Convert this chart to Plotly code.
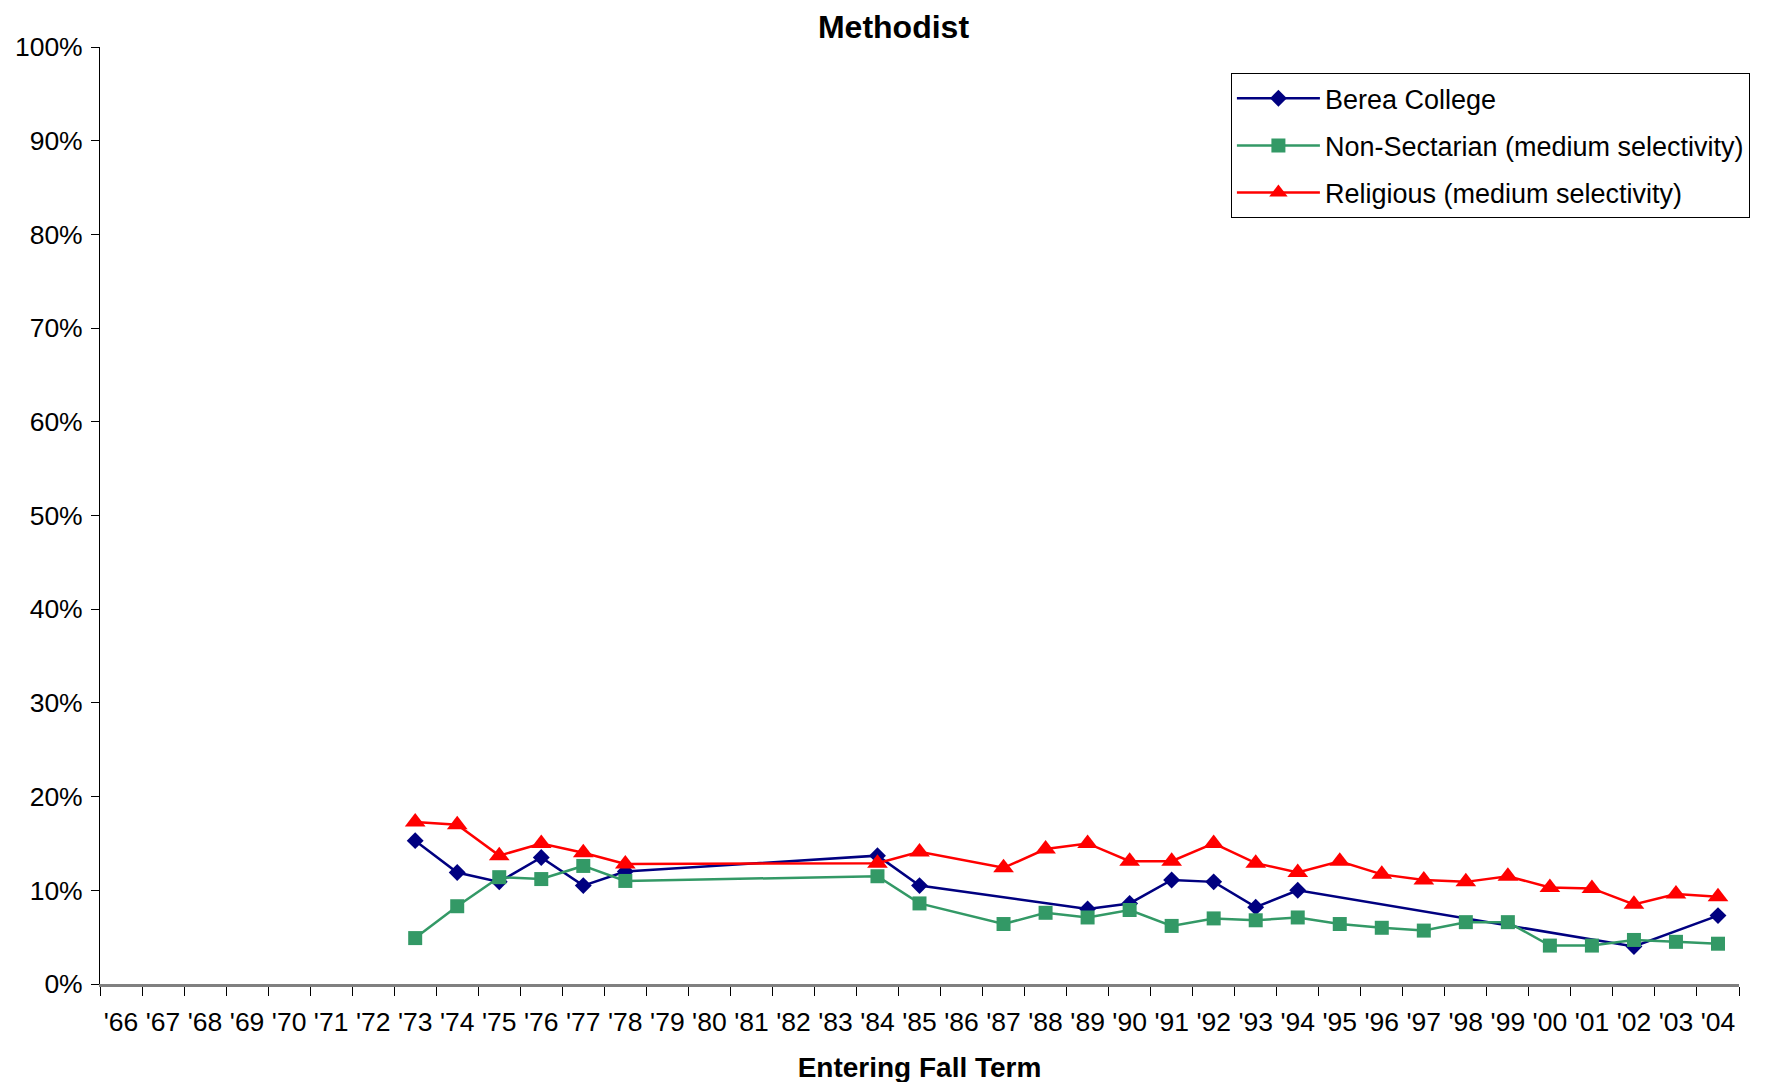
import plotly.graph_objects as go

# entering fall term categories
years = ["'66", "'67", "'68", "'69", "'70", "'71", "'72", "'73", "'74", "'75",
         "'76", "'77", "'78", "'79", "'80", "'81", "'82", "'83", "'84", "'85",
         "'86", "'87", "'88", "'89", "'90", "'91", "'92", "'93", "'94", "'95",
         "'96", "'97", "'98", "'99", "'00", "'01", "'02", "'03", "'04"]

N = None
# percent Methodist
berea = [N, N, N, N, N, N, N, 15.3, 11.9, 10.9,
         13.5, 10.5, 12.0, N, N, N, N, N, 13.7, 10.5,
         N, N, N, 8.0, 8.6, 11.1, 10.9, 8.2, 10.0, N,
         N, N, N, N, N, N, 4.0, N, 7.3]
non_sect = [N, N, N, N, N, N, N, 4.9, 8.3, 11.4,
            11.2, 12.6, 11.0, N, N, N, N, N, 11.5, 8.6,
            N, 6.4, 7.6, 7.1, 7.9, 6.2, 7.0, 6.8, 7.1, 6.4,
            6.0, 5.7, 6.6, 6.6, 4.1, 4.1, 4.7, 4.5, 4.3]
religious = [N, N, N, N, N, N, N, 17.3, 17.0, 13.7,
             15.0, 14.0, 12.8, N, N, N, N, N, 12.9, 14.1,
             N, 12.4, 14.4, 15.0, 13.1, 13.1, 15.0, 12.9, 11.9, 13.1,
             11.7, 11.1, 10.9, 11.5, 10.3, 10.2, 8.5, 9.6, 9.3]

FONT = "Arial, Liberation Sans, sans-serif"

fig = go.Figure()
fig.add_trace(go.Scatter(x=years, y=berea, name="Berea College", legendgroup="a",
                         mode="lines+markers", connectgaps=True,
                         line=dict(color="#000080", width=2.5),
                         marker=dict(symbol="diamond", size=13, color="#000080")))
fig.add_trace(go.Scatter(x=years, y=non_sect, name="Non-Sectarian (medium selectivity)",
                         legendgroup="b", mode="lines+markers", connectgaps=True,
                         line=dict(color="#339966", width=2.5),
                         marker=dict(symbol="square", size=14, color="#339966")))
fig.add_trace(go.Scatter(x=years, y=religious, name="Religious (medium selectivity)",
                         legendgroup="c", mode="lines+markers", connectgaps=True,
                         line=dict(color="#FF0000", width=2.5),
                         marker=dict(symbol="triangle-up", size=18, color="#FF0000")))

# page body adds ~8px offset, margins compensate
fig.update_layout(
    width=1771, height=1082,
    paper_bgcolor="white", plot_bgcolor="white",
    font=dict(family=FONT, size=26.5, color="black"),
    margin=dict(l=92, r=40, t=39, b=106, autoexpand=False),
    title=dict(text="<b>Methodist</b>", x=0.5, xref="container", xanchor="center",
               y=1 - 19 / 1082, yref="container", yanchor="middle",
               font=dict(size=32, family=FONT)),
    showlegend=True,
    legend=dict(x=0.69, y=0.972, xanchor="left", yanchor="top",
                bordercolor="black", borderwidth=1, bgcolor="white",
                font=dict(size=27, family=FONT), itemwidth=83,
                tracegroupgap=9, traceorder="grouped"),
    xaxis=dict(type="category", categoryorder="array", categoryarray=years,
               range=[-0.5, len(years) - 0.5], autorange=False,
               showgrid=False, zeroline=False,
               showline=True, linecolor="#808080", linewidth=3,
               ticks="outside", ticklen=9, tickcolor="black", tickwidth=1,
               tickson="boundaries", ticklabelstandoff=12, tickangle=0,
               tickfont=dict(size=26.5),
               title=dict(text="<b>Entering Fall Term</b>", standoff=22,
                          font=dict(size=28))),
    yaxis=dict(range=[0, 100], dtick=10, ticksuffix="%",
               showgrid=False, zeroline=False,
               showline=True, linecolor="black", linewidth=1,
               ticks="outside", ticklen=8, tickcolor="black",
               ticklabelstandoff=3, tickfont=dict(size=26.5)),
)

fig.write_html("out.html")
